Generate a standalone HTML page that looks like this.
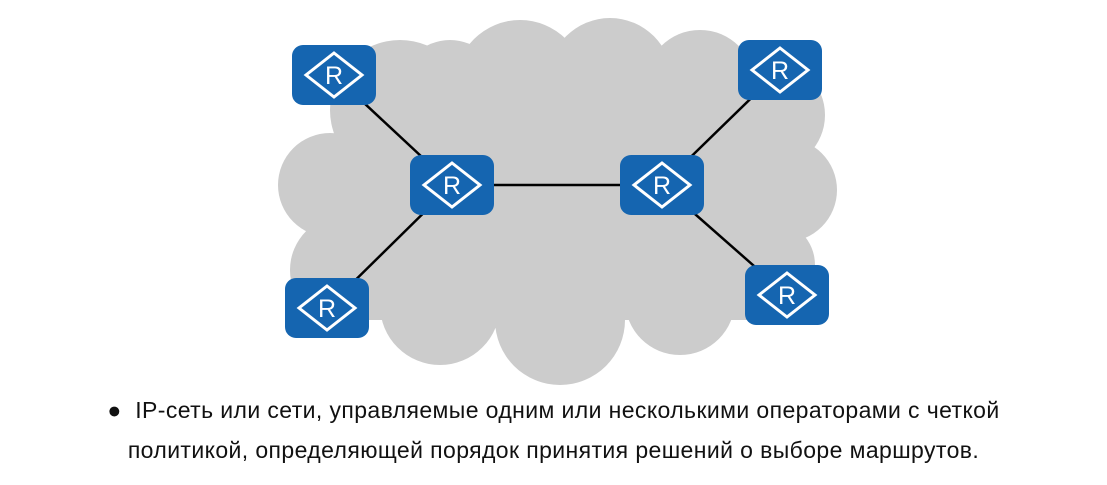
<!DOCTYPE html>
<html><head><meta charset="utf-8"><style>
body{margin:0;width:1107px;height:485px;background:#fff;overflow:hidden;font-family:"Liberation Sans",sans-serif;}
.t{position:absolute;left:0;width:1107px;text-align:center;font-size:23px;letter-spacing:0.4px;color:#111;}
</style></head><body>
<svg width="1107" height="485" style="position:absolute;left:0;top:0">
<g fill="#cccccc">
<circle cx="520" cy="85" r="65"/>
<circle cx="610" cy="80" r="62"/>
<circle cx="700" cy="85" r="55"/>
<circle cx="770" cy="115" r="55"/>
<circle cx="785" cy="190" r="52"/>
<circle cx="770" cy="265" r="45"/>
<circle cx="680" cy="300" r="55"/>
<circle cx="560" cy="320" r="65"/>
<circle cx="440" cy="305" r="60"/>
<circle cx="345" cy="270" r="55"/>
<circle cx="330" cy="185" r="52"/>
<circle cx="400" cy="110" r="70"/>
<circle cx="450" cy="90" r="50"/>
<rect x="340" y="100" width="460" height="220"/>
</g>
<g stroke="#000" stroke-width="2.5">
<line x1="334" y1="75" x2="452" y2="185"/>
<line x1="452" y1="185" x2="327" y2="308"/>
<line x1="452" y1="185" x2="662" y2="185"/>
<line x1="662" y1="185" x2="780" y2="70"/>
<line x1="662" y1="185" x2="787" y2="295"/>
</g>
<defs><g id="r">
<rect x="-42" y="-30" width="84" height="60" rx="11" fill="#1565b0"/>
<polygon points="0,-22 28,0 0,22 -28,0" fill="none" stroke="#fff" stroke-width="3"/>
<text x="0" y="9" text-anchor="middle" font-family="Liberation Sans" font-size="25" fill="#fff">R</text>
</g></defs>
<use href="#r" x="334" y="75"/>
<use href="#r" x="452" y="185"/>
<use href="#r" x="662" y="185"/>
<use href="#r" x="780" y="70"/>
<use href="#r" x="327" y="308"/>
<use href="#r" x="787" y="295"/>
</svg>
<div class="t" style="top:397px">● &nbsp;IP-сеть или сети, управляемые одним или несколькими операторами с четкой</div>
<div class="t" style="top:437px">политикой, определяющей порядок принятия решений о выборе маршрутов.</div>
</body></html>
